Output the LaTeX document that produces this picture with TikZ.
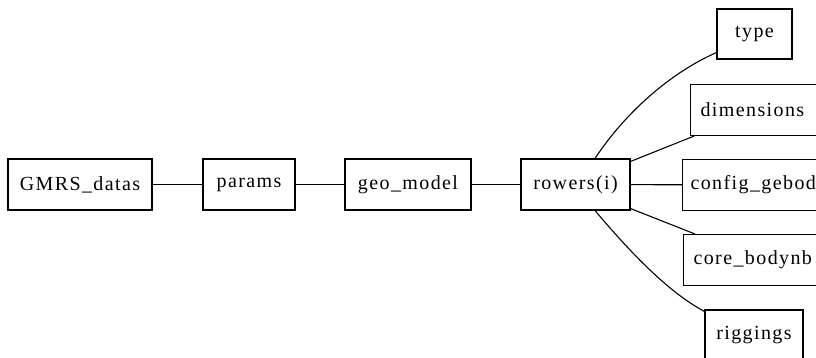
\documentclass[tikz,border=0pt]{standalone}
\usepackage{fontspec}
\setmainfont{Liberation Serif}[LetterSpace=7]
\usetikzlibrary{calc}
\begin{document}
\begin{tikzpicture}[x=1pt,y=-1pt,line width=1.1pt,
  box/.style={draw,rectangle,inner sep=0pt,minimum height=51pt,font=\fontsize{20}{24}\selectfont},
  cbox/.style={box,anchor=north west,align=left,text width=200pt,inner xsep=10pt}]
\useasboundingbox (0,0) rectangle (816,358);
\clip (0,0) rectangle (816,358);
\node[box,minimum width=144pt] (gmrs) at (80,184.5) {GMRS\_datas};
\node[box,minimum width=92pt] (params) at (249,184.5) {params};
\node[box,minimum width=126pt] (geo) at (408,184.5) {geo\_model};
\node[box,minimum width=109pt] (rowers) at (575.5,184.5) {rowers(i)};
\node[box,minimum width=75pt,minimum height=50pt] (type) at (754.5,34) {type};
\node[cbox] (dims) at (690,84) {dimensions};
\node[cbox,inner xsep=8pt] (config) at (682,159) {config\_gebod};
\node[cbox] (core) at (683,234) {core\_bodynb};
\node[box,minimum width=98pt] (rig) at (754,335.5) {riggings};
\draw (gmrs) -- (params);
\draw (params) -- (geo);
\draw (geo) -- (rowers);
\draw (rowers) -- (config);
\draw ($(rowers.north)+(19.5,0)$) .. controls (625,113) and (670,73) .. ($(type.south west)+(0,-7)$);
\draw ($(rowers.north east)+(0,3)$) -- ($(dims.south west)+(4,0)$);
\draw ($(rowers.south east)+(0,-2)$) -- ($(core.north west)+(12,0)$);
\draw ($(rowers.south)+(19.5,0)$) .. controls (630,252) and (668,292) .. ($(rig.north west)+(0,2)$);
\end{tikzpicture}
\end{document}
